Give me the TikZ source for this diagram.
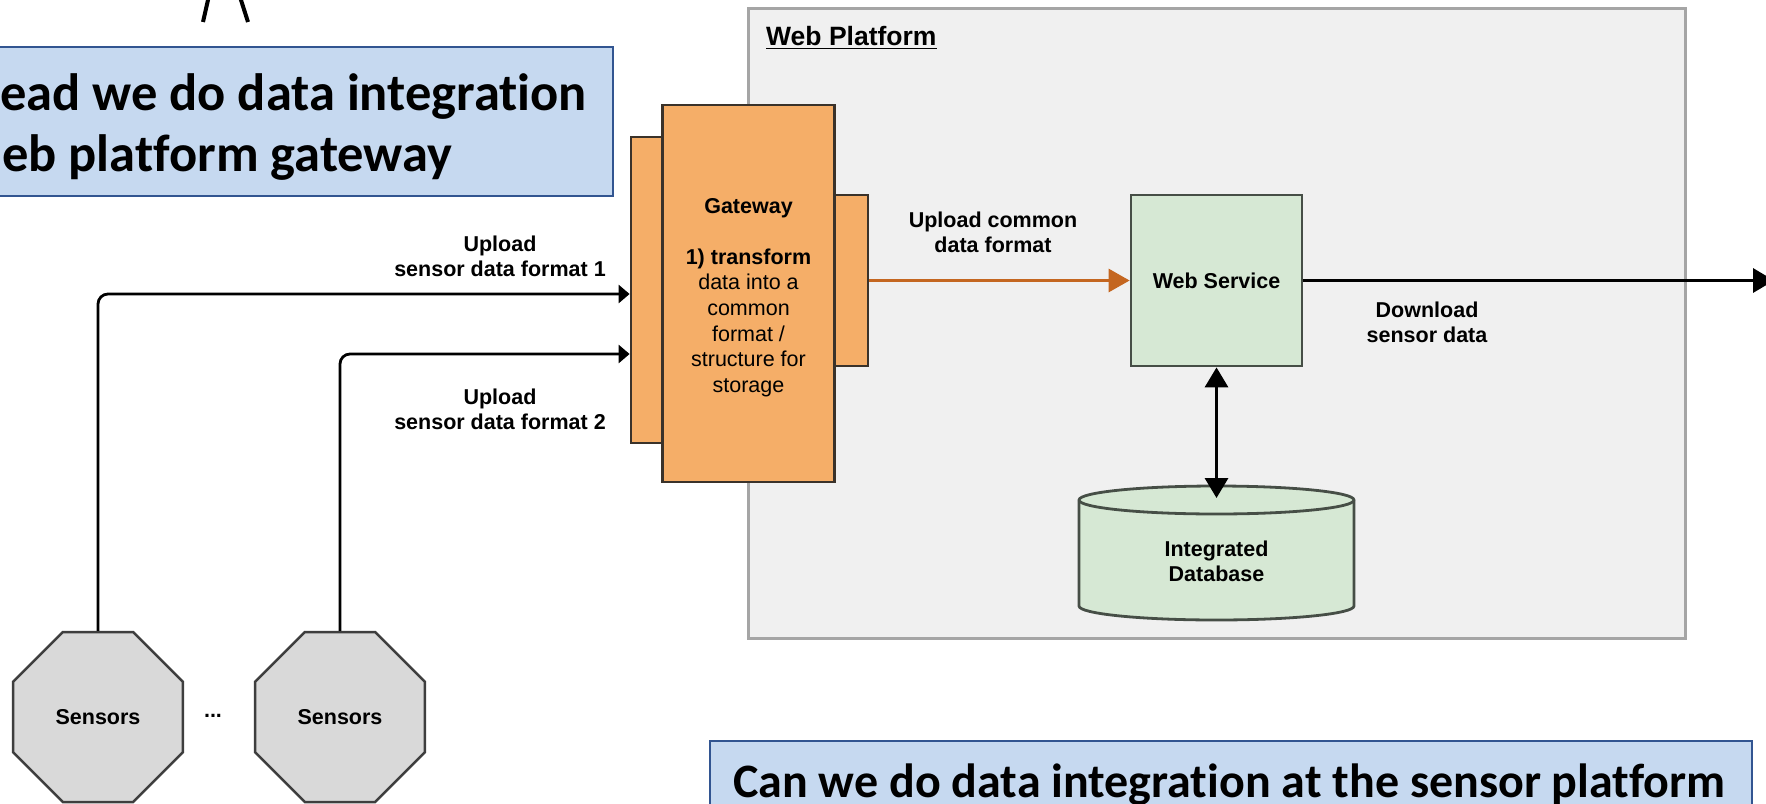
\documentclass[tikz,border=0pt]{standalone}
\usepackage{fontspec}
\setmainfont{Liberation Sans}
\newfontfamily\calibri[Ligatures=CommonOff]{Carlito}
\usetikzlibrary{arrows.meta,shapes.geometric}

\definecolor{platformfill}{RGB}{240,240,240}
\definecolor{platformline}{RGB}{165,165,165}
\definecolor{gatefill}{RGB}{245,174,104}
\definecolor{gateline}{RGB}{58,50,42}
\definecolor{svcfill}{RGB}{214,232,212}
\definecolor{svcline}{RGB}{70,78,70}
\definecolor{sensorfill}{RGB}{217,217,217}
\definecolor{sensorline}{RGB}{62,62,62}
\definecolor{notefill}{RGB}{198,217,240}
\definecolor{noteline}{RGB}{50,85,145}
\definecolor{flow}{RGB}{196,102,32}

\begin{document}
\begin{tikzpicture}[x=1pt,y=-1pt,
  lbl/.style={font=\fontsize{21.5}{25}\selectfont\bfseries, align=center, inner sep=0pt},
  platform/.style={draw=platformline, fill=platformfill, line width=3pt, inner sep=0pt},
  gatebox/.style={draw=gateline, fill=gatefill, line width=2.8pt, inner sep=0pt},
  svc/.style={draw=svcline, fill=svcfill, line width=2.8pt, inner sep=0pt,
    font=\fontsize{21.5}{25}\selectfont\bfseries, align=center},
  sensor/.style={regular polygon, regular polygon sides=8, minimum size=184pt,
    draw=sensorline, fill=sensorfill, line width=2.5pt, inner sep=0pt,
    font=\fontsize{21.5}{25}\selectfont\bfseries},
  note/.style={draw=noteline, fill=notefill, line width=2.2pt, inner sep=0pt},
  notetext/.style={font=\calibri\fontsize{52.5}{63}\selectfont\bfseries, inner sep=0pt, anchor=base west},
  conn/.style={line width=2.8pt, black},
  smallhead/.style={-{Triangle[length=11pt,width=18pt]}},
  bighead/.style={-{Triangle[length=21pt,width=24pt]}},
]
\useasboundingbox (0,0) rectangle (1766,803);
\fill[white] (0,0) rectangle (1766,803);
\clip (0,0) rectangle (1766,803);

% legs of the stick figure peeking in at the top
\draw[line width=4pt] (203,22) -- (221.75,-60.5) -- (248,22);

% web platform container
\node[platform, minimum width=937pt, minimum height=630pt] (wp) at (1216.5,323) {};
\node[anchor=base west, inner sep=0pt, font=\fontsize{26.5}{30}\selectfont\bfseries] (wptitle) at (766,45) {Web Platform};
\draw[line width=1.8pt] ([yshift=-3.5pt]wptitle.base west) -- ([yshift=-3.5pt]wptitle.base east);

% gateway component
\node[gatebox, minimum width=31pt, minimum height=306pt] (gwl) at (646.5,290) {};
\node[gatebox, minimum width=33pt, minimum height=171pt] (gwr) at (851.5,280.5) {};
\node[gatebox, minimum width=172pt, minimum height=377pt] (gw) at (748.5,293.5) {};
\node[font=\fontsize{21.5}{25.6}\selectfont, align=center, inner sep=0pt] (gwtext) at (748.5,297.5)
  {\textbf{Gateway}\\[25.6pt]\textbf{1) transform}\\data into a\\common\\format /\\structure for\\storage};

% web service and database
\node[svc, minimum width=171pt, minimum height=171pt] (ws) at (1216.5,280.5) {Web Service};

\fill[svcfill] (1079,500) -- (1079,606)
  arc[start angle=180, end angle=0, x radius=137.5, y radius=14]
  -- (1354,500)
  arc[start angle=0, end angle=-180, x radius=137.5, y radius=14] -- cycle;
\draw[svcline, line width=2.8pt] (1079,500) -- (1079,606)
  arc[start angle=180, end angle=0, x radius=137.5, y radius=14]
  -- (1354,500)
  arc[start angle=0, end angle=-180, x radius=137.5, y radius=14] -- cycle;
\draw[svcline, line width=2.8pt] (1079,500)
  arc[start angle=180, end angle=0, x radius=137.5, y radius=14];
\node[lbl] (db) at (1216.5,561.5) {Integrated\\Database};
\coordinate (dbtop) at (1216.5,498);

% sensors
\node[sensor] (s1) at (98,717) {Sensors};
\node[sensor] (s2) at (340,717) {Sensors};
\node[lbl] (dots) at (213,716) {...};

% connectors
\draw[conn, rounded corners=10pt, smallhead] (s1.north) |- ([yshift=-4pt]gwl.west);
\draw[conn, rounded corners=10pt, smallhead] (s2.north) |- ([yshift=-64pt]gwl.west);
\draw[line width=3pt, flow, -{Triangle[length=21pt,width=23pt]}] (gwr.east) -- (ws.west);
\coordinate (out) at (1774,280.5);
\draw[line width=3.4pt, bighead] (ws.east) -- (out);
\draw[line width=3.4pt, {Triangle[length=20pt,width=23pt]}-{Triangle[length=20pt,width=23pt]}] (dbtop) -- (ws.south);

% connector labels
\node[lbl] (up1) at (500,256.5) {Upload\\sensor data format 1};
\node[lbl] (up2) at (500,409) {Upload\\sensor data format 2};
\node[lbl] (upc) at (993,232) {Upload common\\data format};
\node[lbl] (down) at (1427,322.5) {Download\\sensor data};

% notes
\node[note, minimum width=633pt, minimum height=149pt] (topnote) at (296.5,121.5) {};
\node[notetext] (topline1) at (0,110) {ead we do data integration};
\node[notetext] (topline2) at (2,171) {eb platform gateway};
\node[note, minimum width=1042pt, minimum height=100pt] (botnote) at (1231,791) {};
\node[notetext, font=\calibri\fontsize{48}{58}\selectfont\bfseries] (botline) at (733,797) {Can we do data integration at the sensor platform};
\end{tikzpicture}
\end{document}
